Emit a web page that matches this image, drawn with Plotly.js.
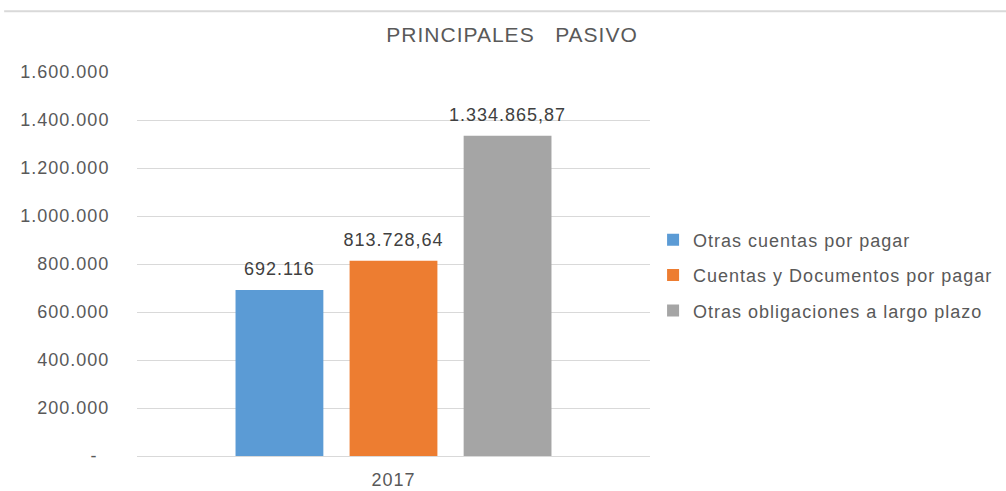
<!DOCTYPE html>
<html>
<head>
<meta charset="utf-8">
<script src="https://cdn.plot.ly/plotly-3.0.1.min.js"></script>
<style>
html,body{margin:0;padding:0;background:#fff;}
#chart{width:1006px;height:491px;}
svg text{letter-spacing:1px;}
</style>
</head>
<body>
<div id="chart"></div>
<script>
const categories = ["2017"];
const seriesNames = ["Otras cuentas por pagar", "Cuentas y Documentos por pagar", "Otras obligaciones a largo plazo"];
const seriesValues = [[692116], [813728.64], [1334865.87]];
const seriesLabels = [["692.116"], ["813.728,64"], ["1.334.865,87"]];
const seriesColors = ["#5b9bd5", "#ed7d31", "#a5a5a5"];
const tickVals = [0, 200000, 400000, 600000, 800000, 1000000, 1200000, 1400000, 1600000];
const tickText = ["-\u00a0\u00a0", "200.000", "400.000", "600.000", "800.000", "1.000.000", "1.200.000", "1.400.000", "1.600.000"];

const FONT = "'Liberation Sans', Arial, sans-serif";

const traces = seriesNames.map((name, i) => ({
  type: "bar",
  name: name,
  legendgroup: "g" + i,
  x: categories,
  y: seriesValues[i],
  text: seriesLabels[i],
  textposition: "outside",
  constraintext: "none",
  cliponaxis: false,
  textfont: {family: FONT, size: 18, color: "#404040"},
  marker: {color: seriesColors[i]},
  hoverinfo: "name+y"
}));

const layout = {
  width: 1006,
  height: 491,
  margin: {l: 137, r: 356, t: 72, b: 35, autoexpand: false},
  paper_bgcolor: "#ffffff",
  plot_bgcolor: "#ffffff",
  barmode: "group",
  bargap: 0.333,
  bargroupgap: 0.23,
  font: {family: FONT, size: 18, color: "#595959"},
  title: {
    text: "PRINCIPALES\u00a0\u00a0\u00a0PASIVO",
    font: {family: FONT, size: 21, color: "#595959"},
    x: 0.509, xref: "container", xanchor: "center",
    y: 0.929, yref: "container", yanchor: "middle"
  },
  xaxis: {
    type: "category",
    showgrid: false,
    showline: false,
    zeroline: false,
    ticks: "outside",
    ticklen: 7,
    tickcolor: "rgba(0,0,0,0)",
    tickfont: {family: FONT, size: 18, color: "#595959"}
  },
  yaxis: {
    range: [0, 1600000],
    tickmode: "array",
    tickvals: tickVals,
    ticktext: tickText,
    showgrid: true,
    gridcolor: "#d9d9d9",
    gridwidth: 1,
    zeroline: true,
    zerolinecolor: "#d9d9d9",
    zerolinewidth: 1,
    showline: false,
    ticks: "outside",
    ticklen: 23,
    tickcolor: "rgba(0,0,0,0)",
    tickfont: {family: FONT, size: 18, color: "#595959"}
  },
  legend: {
    x: 1.006, xref: "paper", xanchor: "left",
    y: 0.47, yanchor: "middle",
    font: {family: FONT, size: 18, color: "#595959"},
    itemwidth: 30,
    tracegroupgap: 9,
    bgcolor: "rgba(0,0,0,0)"
  },
  shapes: [{
    type: "line", xref: "paper", yref: "paper",
    x0: -0.259, x1: 1.72, y0: 1.158, y1: 1.158,
    line: {color: "#d9d9d9", width: 2}
  }]
};

Plotly.newPlot("chart", traces, layout, {displayModeBar: false, staticPlot: true}).then(function (gd) {
  // lift the outside data labels a little, as in the reference
  gd.querySelectorAll("text.bartext").forEach(function (t) {
    const y = parseFloat(t.getAttribute("y") || "0");
    t.setAttribute("y", y - 8);
  });
});
</script>
</body>
</html>
